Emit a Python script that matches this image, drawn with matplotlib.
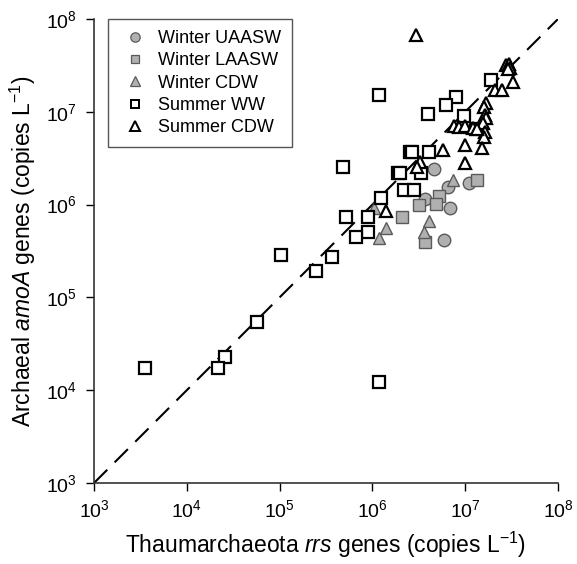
import numpy as np
import matplotlib
matplotlib.use("Agg")
import matplotlib.pyplot as plt
from matplotlib.lines import Line2D

plt.rcParams['font.family'] = ['Liberation Sans', 'DejaVu Sans']
plt.rcParams['mathtext.fontset'] = 'custom'
plt.rcParams['mathtext.rm'] = 'Liberation Sans'
plt.rcParams['mathtext.it'] = 'Liberation Sans:italic'
plt.rcParams['mathtext.default'] = 'regular'

# log10 values
winter_uaasw_x = [6.66, 6.82, 7.04, 6.57, 6.84, 6.77]
winter_uaasw_y = [6.38, 6.19, 6.23, 6.06, 5.96, 5.62]

winter_laasw_x = [7.13, 6.72, 6.505, 6.69, 6.32, 6.57]
winter_laasw_y = [6.26, 6.09, 6.00, 6.01, 5.87, 5.60]

winter_cdw_x = [6.87, 6.02, 6.61, 6.15, 6.07, 6.56]
winter_cdw_y = [6.265, 5.96, 5.82, 5.745, 5.64, 5.70]

summer_ww_x = [6.075, 7.28, 6.90, 6.79, 6.60, 6.99, 6.41, 6.43, 6.61, 5.68,
               6.28, 6.30, 6.52, 6.34, 6.45, 6.09, 5.72, 5.95, 5.95, 5.82,
               5.015, 5.57, 5.39, 4.76, 4.415, 4.34, 3.55, 6.075, 7.12]
summer_ww_y = [7.18, 7.34, 7.16, 7.07, 6.98, 6.95, 6.57, 6.57, 6.57, 6.41,
               6.34, 6.34, 6.34, 6.16, 6.16, 6.07, 5.87, 5.87, 5.71, 5.65,
               5.46, 5.44, 5.28, 4.73, 4.36, 4.24, 4.24, 4.09, 6.81]

summer_cdw_x = [6.47, 7.44, 7.47, 7.48, 7.46, 7.51, 7.32, 7.40, 7.22, 7.20,
                7.21, 7.22, 7.19, 7.21, 7.20, 6.88, 6.93, 7.00, 7.08, 7.13,
                6.76, 7.00, 7.18, 7.00, 6.51, 6.48, 6.15]
summer_cdw_y = [7.83, 7.50, 7.52, 7.47, 7.46, 7.32, 7.235, 7.235, 7.10, 7.05,
                6.97, 6.93, 6.88, 6.78, 6.73, 6.85, 6.84, 6.85, 6.83, 6.82,
                6.59, 6.64, 6.61, 6.45, 6.46, 6.41, 5.93]

ticks = [3, 4, 5, 6, 7, 8]
labels = ['Winter UAASW', 'Winter LAASW', 'Winter CDW', 'Summer WW', 'Summer CDW']

fig = plt.figure(figsize=(5.77, 5.64), dpi=100)
ax = fig.add_axes([94/577, 1-483/564, 464/577, 464/564])

lims = [10.0**ticks[0], 10.0**ticks[-1]]
ax.plot(lims, lims, color='black', lw=1.5, dashes=(9, 5), zorder=1)

gray_face = '#b0b0b0'
gray_edge = '#5a5a5a'
ms = 9

def pw(v):
    return np.power(10.0, v)

series = [
    (winter_uaasw_x, winter_uaasw_y, 'o', gray_face, gray_edge, 1.0, ms),
    (winter_laasw_x, winter_laasw_y, 's', gray_face, gray_edge, 1.0, ms - 0.5),
    (winter_cdw_x, winter_cdw_y, '^', gray_face, gray_edge, 1.0, ms),
    (summer_ww_x, summer_ww_y, 's', 'white', 'black', 1.6, ms - 0.5),
    (summer_cdw_x, summer_cdw_y, '^', 'white', 'black', 1.6, ms),
]
handles = []
for (xs, ys, m, fc, ec, lw, s), lab in zip(series, labels):
    ax.plot(pw(xs), pw(ys), linestyle='none', marker=m, markersize=s,
            markerfacecolor=fc, markeredgecolor=ec, markeredgewidth=lw, zorder=3)
    handles.append(Line2D([], [], linestyle='none', marker=m, markersize=s * 0.75,
                          markerfacecolor=fc, markeredgecolor=ec,
                          markeredgewidth=lw * 0.9, label=lab))

ax.set_xscale('log')
ax.set_yscale('log')
ax.set_xlim(lims)
ax.set_ylim(lims)
ax.set_xticks([10.0**t for t in ticks])
ax.set_yticks([10.0**t for t in ticks])
ax.set_xticklabels([r'$10^{%d}$' % t for t in ticks])
ax.set_yticklabels([r'$10^{%d}$' % t for t in ticks])
ax.minorticks_off()
ax.tick_params(axis='both', which='major', direction='out', length=6, width=1,
               labelsize=14, colors='black', pad=6)

for sp in ['top', 'right']:
    ax.spines[sp].set_visible(False)
for sp in ['left', 'bottom']:
    ax.spines[sp].set_linewidth(1.2)
    ax.spines[sp].set_color('#333333')

ax.set_xlabel(r'Thaumarchaeota $\mathit{rrs}$ genes (copies L$^{-1}$)', fontsize=16.5)
ax.set_ylabel(r'Archaeal $\mathit{amoA}$ genes (copies L$^{-1}$)', fontsize=16.5)
ax.xaxis.set_label_coords(0.5, -0.1)
ax.yaxis.set_label_coords(-0.12, 0.5)

leg = ax.legend(handles=handles, loc='upper left', bbox_to_anchor=(0.03, 1.0),
                borderaxespad=0, fontsize=13, frameon=True, fancybox=False,
                edgecolor='#555555', framealpha=1, labelspacing=0.3,
                handletextpad=0.4, handlelength=1.8, borderpad=0.6)
leg.get_frame().set_linewidth(1.0)

fig.savefig('out.png', dpi=100)
